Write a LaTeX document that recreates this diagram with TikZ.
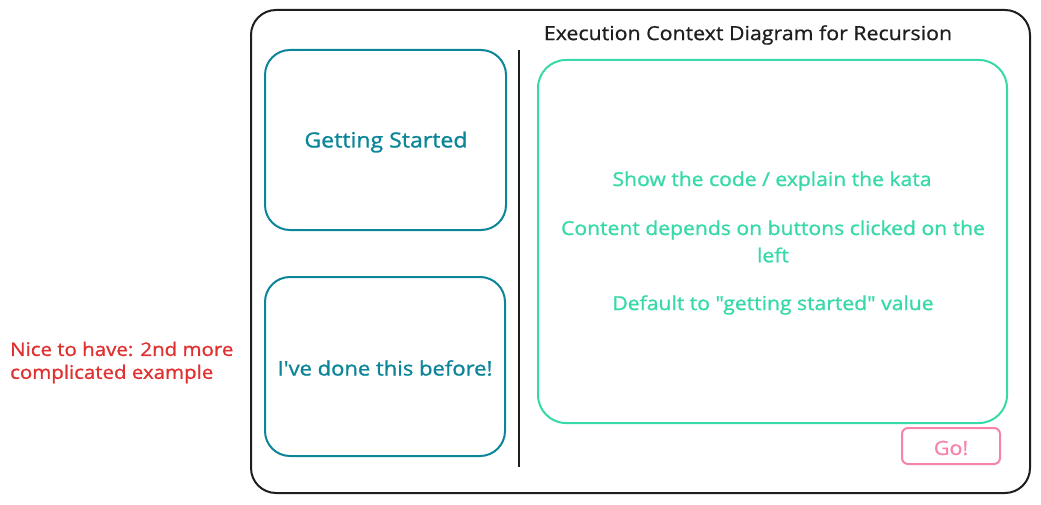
\documentclass[tikz,border=0pt]{standalone}
\usepackage{fontspec}
\newfontfamily\hand[FakeStretch=1.1,FakeBold=1.2]{Open Sans}
\newfontfamily\handt[FakeStretch=1.1,FakeBold=0.8]{Open Sans}
\definecolor{teal}{HTML}{0C8599}
\definecolor{mint}{HTML}{38D9A9}
\definecolor{pinkc}{HTML}{F783AC}
\definecolor{redc}{HTML}{E03131}
\definecolor{ink}{HTML}{1E1E1E}
\begin{document}
\begin{tikzpicture}[x=1pt,y=-1pt,
  frame/.style={draw=ink,line width=2pt,rounded corners=25pt},
  tealbox/.style={draw=teal,line width=2pt,rounded corners=25pt},
  mintbox/.style={draw=mint,line width=2pt,rounded corners=28pt},
  gobox/.style={draw=pinkc,line width=2pt,rounded corners=6pt},
  lbl/.style={font=\hand\fontsize{19.2}{23}\selectfont,inner sep=0pt,anchor=center},
  big/.style={font=\hand\fontsize{21}{25}\selectfont}]
\useasboundingbox (0,0) rectangle (1041,505);
\draw[frame] (251,10) rectangle (1030,493);
\node[lbl,text=ink,font=\handt\fontsize{19.4}{23}\selectfont] (title) at (748,35) {Execution Context Diagram for Recursion};
\draw[tealbox] (265,50) rectangle (506,230);
\node[lbl,big,text=teal] (gs) at (386,142) {Getting Started};
\draw[tealbox] (265,277) rectangle (505,456);
\node[lbl,text=teal,font=\hand\fontsize{20}{24}\selectfont] (done) at (385,368) {I've done this before!};
\coordinate (vtop) at (519,50);
\coordinate (vbot) at (519,467);
\draw[ink,line width=2.5pt] (vtop) -- (vbot);
\draw[mintbox] (538,60) rectangle (1007,423);
\node[lbl,text=mint] (t1) at (772,181) {Show the code / explain the kata};
\node[lbl,text=mint] (t2) at (773,230) {Content depends on buttons clicked on the};
\node[lbl,text=mint] (t3) at (773,255) {left};
\node[lbl,text=mint] (t4) at (773,305) {Default to "getting started" value};
\draw[gobox] (902,428) rectangle (1000,464);
\node[lbl,text=pinkc,font=\hand\fontsize{19.5}{23}\selectfont] (go) at (951,448) {Go!};
\node[lbl,text=redc,anchor=west,font=\hand\fontsize{18.6}{22}\selectfont] (n1) at (10,349) {Nice to have: 2nd more};
\node[lbl,text=redc,anchor=west,font=\hand\fontsize{18.6}{22}\selectfont] (n2) at (10,374) {complicated example};
\end{tikzpicture}
\end{document}
